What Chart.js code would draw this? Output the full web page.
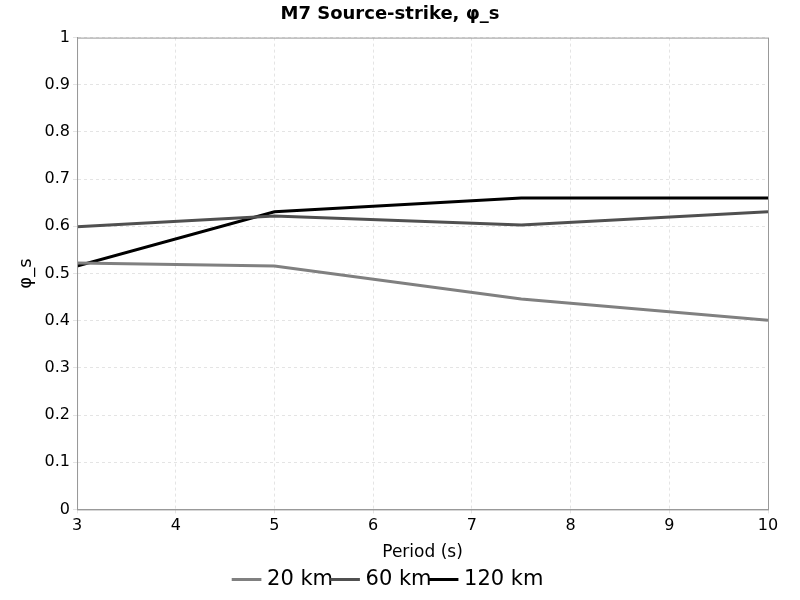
<!DOCTYPE html>
<html><head><meta charset="utf-8">
<script src="https://cdn.jsdelivr.net/npm/chart.js@4"></script>
<style>html,body{margin:0;background:#fff}#wrap{width:800px;height:600px}</style>
</head><body><div id="wrap"><canvas id="c"></canvas></div>
<script>
const periods = [3, 5, 7.5, 10];
const km20 = [0.522, 0.516, 0.446, 0.401];
const km60 = [0.599, 0.622, 0.603, 0.631];
const km120 = [0.516, 0.631, 0.660, 0.660];
const labels = ['20 km', '60 km', '120 km'];
const colors = ['#808080', '#505050', '#000000'];

const toPts = (ys) => ys.map((y, i) => ({ x: periods[i], y }));
const series = [km20, km60, km120];

Chart.defaults.font.family = 'DejaVu Sans';
Chart.defaults.color = '#000';

// full frame around the plot area
const frame = {
  id: 'frame',
  afterDraw(chart) {
    const { ctx, chartArea: a } = chart;
    ctx.save();
    ctx.strokeStyle = '#999';
    ctx.lineWidth = 1;
    ctx.strokeRect(a.left + 0.5, a.top + 0.5, a.width, a.height);
    ctx.restore();
  },
};

new Chart(document.getElementById('c'), {
  type: 'line',
  data: {
    datasets: series.map((s, i) => ({
      label: labels[i], data: toPts(s), borderColor: colors[i], backgroundColor: colors[i],
      borderWidth: 3, pointRadius: 0, tension: 0,
    })),
  },
  options: {
    responsive: true, maintainAspectRatio: false, animation: false,
    layout: { padding: { right: 32, left: 12, top: 2 } },
    plugins: {
      title: { display: true, text: 'M7 Source-strike, φ_s', font: { size: 18, weight: 'bold' }, padding: { top: 2, bottom: 12 } },
      legend: {
        position: 'bottom',
        labels: { usePointStyle: true, pointStyle: 'line', boxWidth: 20, padding: 2, font: { size: 21 } },
      },
      tooltip: { enabled: false },
    },
    scales: {
      x: {
        type: 'linear', min: 3, max: 10,
        ticks: { stepSize: 1, font: { size: 16 } },
        grid: { color: '#e4e4e4', tickLength: 4 },
        border: { color: '#999', dash: [3, 3] },
        title: { display: true, text: 'Period (s)', font: { size: 17 } },
      },
      y: {
        min: 0, max: 1,
        ticks: { stepSize: 0.1, font: { size: 16 }, callback: (v) => String(Math.round(v * 10) / 10) },
        grid: { color: '#e4e4e4', tickLength: 4 },
        border: { color: '#999', dash: [3, 3] },
        title: { display: true, text: 'φ_s', font: { size: 18 } },
      },
    },
  },
  plugins: [frame],
});
</script></body></html>
